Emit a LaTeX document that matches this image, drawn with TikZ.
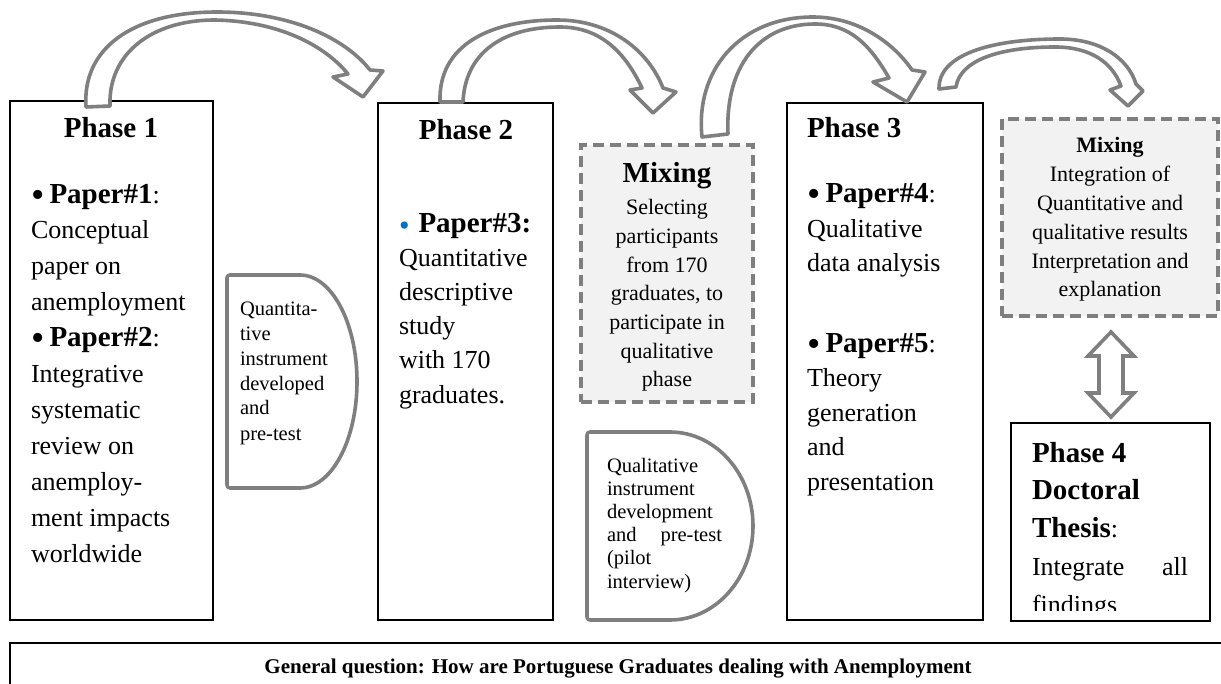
\documentclass[tikz,border=0pt]{standalone}
\usepackage{fontspec}
\setmainfont{Liberation Serif}
\definecolor{arrowgray}{HTML}{7F7F7F}
\definecolor{mixfill}{HTML}{F2F2F2}
\definecolor{bulletblue}{HTML}{0070C0}
\newcommand\hd[1]{{\fontsize{29}{36}\selectfont\bfseries #1}}
% large list bullet and the smaller blue one
\newcommand\bul{\makebox[12pt][l]{\raisebox{-4pt}{\fontsize{38}{36}\selectfont\textbullet}}}
\newcommand\bulblue{\makebox[13pt][l]{\raisebox{-3pt}{\color{bulletblue}\fontsize{30}{30}\selectfont\textbullet}}}
\begin{document}
% multi-line nodes are anchored at the baseline of their last line
\begin{tikzpicture}[x=1pt,y=-1pt,
  phasebox/.style={draw=black, line width=1.8pt, inner sep=0pt, outer sep=0pt, anchor=north west},
  mixbox/.style={draw=arrowgray, fill=mixfill, line width=3.2pt, dash pattern=on 11pt off 6pt, inner sep=0pt, outer sep=0pt, anchor=north west},
  toolshape/.style={draw=arrowgray, fill=white, line width=3.6pt, line join=round},
  bendarrow/.style={draw=arrowgray, fill=white, line width=3.6pt, line join=round},
  txt/.style={inner sep=0pt, outer sep=0pt},
  body/.style={txt, align=left, anchor=base west},
  title/.style={txt, font=\fontsize{29}{29}\selectfont\bfseries},
]
\useasboundingbox (0,0) rectangle (1221,684);
\clip (0,0) rectangle (1221,684);

% ---------- boxes ----------
\node[phasebox, minimum width=203pt, minimum height=519pt] (ph1) at (10,101) {};
\node[phasebox, minimum width=175pt, minimum height=517pt] (ph2) at (378,103) {};
\node[mixbox, minimum width=172pt, minimum height=257pt] (mix1) at (581,145) {};
\node[phasebox, minimum width=196pt, minimum height=517pt] (ph3) at (787,103) {};
\node[mixbox, minimum width=216pt, minimum height=197pt] (mix2) at (1002,119) {};
\node[phasebox, minimum width=199pt, minimum height=198pt] (ph4) at (1011,423) {};
\draw[line width=1.8pt] (10,643) rectangle (1240,720);

% ---------- instrument shapes ----------
\draw[toolshape, rounded corners=3pt] (300,275) -- (227,275) -- (227,488) -- (300,488);
\draw[toolshape] (300,488) arc[start angle=90, end angle=-90, x radius=57, y radius=106.5];
\fill[white] (229,277) rectangle (301,486);
\draw[toolshape, rounded corners=3pt] (670,432) -- (587,432) -- (587,620) -- (670,620);
\draw[toolshape] (670,620) arc[start angle=90, end angle=-90, x radius=83, y radius=94];
\fill[white] (589,434) rectangle (671,618);

% ---------- curved block arrows ----------
\draw[bendarrow] (86,107) .. controls (82,50) and (130,12) .. (217,12)
  .. controls (290,12) and (345,38) .. (370,70)
  -- (383,71) -- (363,97) -- (333,77) -- (348,74)
  .. controls (320,40) and (270,21) .. (215,20)
  .. controls (150,20) and (108,55) .. (110,106) -- cycle;

\draw[bendarrow] (440,102) .. controls (438,45) and (490,20) .. (557,20)
  .. controls (610,20) and (648,50) .. (663,88)
  -- (676,92) -- (653,113) -- (630,90) -- (642,88)
  .. controls (625,52) and (600,27) .. (560,27)
  .. controls (500,27) and (465,55) .. (463,102) -- cycle;

\draw[bendarrow] (702,137) .. controls (695,70) and (740,17) .. (813,17)
  .. controls (860,17) and (895,45) .. (912,70)
  -- (925,72) -- (907,102) -- (873,82) -- (889,78)
  .. controls (870,45) and (850,24) .. (815,24)
  .. controls (760,24) and (725,65) .. (728,134) -- cycle;

\draw[bendarrow] (939,89) .. controls (938,55) and (990,39) .. (1060,39)
  .. controls (1100,39) and (1128,58) .. (1136,84)
  -- (1143,91) -- (1128,106) -- (1110,90) -- (1121,86)
  .. controls (1112,62) and (1090,47) .. (1055,47)
  .. controls (1000,47) and (960,60) .. (956,87) -- cycle;

% ---------- double arrow between mixing and phase 4 ----------
\draw[bendarrow, line join=miter] (1111,332) -- (1134,356) -- (1123,356) -- (1123,393) -- (1134,393)
  -- (1111,417) -- (1088,393) -- (1099,393) -- (1099,356) -- (1088,356) -- cycle;

% ---------- texts ----------
\node[title, anchor=base] (t1) at (111,138) {Phase 1};
\node[body, font=\fontsize{26}{35.9}\selectfont] (b1) at (31,562)
  {\bul\ \hd{Paper\#1}:\\ Conceptual\\ paper on\\ anemployment\\
   \bul\ \hd{Paper\#2}:\\ Integrative\\ systematic\\ review on\\
   anemploy-\\ ment impacts\\ worldwide};

\node[txt, anchor=base west, font=\fontsize{20.5}{25}\selectfont, align=left] (q1) at (240,440)
  {Quantita-\\ tive\\ instrument\\ developed\\ and\\ pre-test};

\node[title, anchor=base] (t2) at (466,140) {Phase 2};
\node[body, font=\fontsize{26}{34.2}\selectfont] (b2) at (399,403)
  {\bulblue\ \hd{Paper\#3:}\\
   Quantitative\\ descriptive\\ study\\ with 170\\ graduates.};

\node[title, anchor=base] (m1t) at (667,183) {Mixing};
\node[txt, anchor=base, align=center, font=\fontsize{22}{28.7}\selectfont] (m1b) at (667,387)
  {Selecting\\ participants\\ from 170\\ graduates, to\\ participate in\\ qualitative\\ phase};

\node[txt, anchor=base west, align=left, font=\fontsize{20.5}{23.2}\selectfont] (q2) at (607,588)
  {Qualitative\\ instrument\\ development\\ \hbox to 115pt{and\hfill pre-test}\\ (pilot\\ interview)};

\node[title, anchor=base west] (t3) at (807,138) {Phase 3};
\node[body, font=\fontsize{26}{34.5}\selectfont] (b3a) at (807,272)
  {\bul\ \hd{Paper\#4}:\\ Qualitative\\ data analysis};
\node[body, font=\fontsize{26}{34.5}\selectfont] (b3b) at (807,490)
  {\bul\ \hd{Paper\#5}:\\ Theory\\ generation\\ and\\ presentation};

\node[txt, anchor=base, font=\fontsize{22}{22}\selectfont\bfseries] (m2t) at (1110,153) {Mixing};
\node[txt, anchor=base, align=center, font=\fontsize{22}{28.75}\selectfont] (m2b) at (1110,297)
  {Integration of\\ Quantitative and\\ qualitative results\\ Interpretation and\\ explanation};

\begin{scope}
\clip (1011,420) rectangle (1210,610);
\node[body, font=\fontsize{26}{37.75}\selectfont] (b4) at (1032,613)
  {\hd{Phase 4}\\ \hd{Doctoral}\\ \hd{Thesis}:\\ \hbox to 156pt{Integrate\hfill all}\\ findings};
\end{scope}

\node[txt, anchor=base, font=\fontsize{21}{21}\selectfont\bfseries] (gq) at (618,673)
  {General question: How are Portuguese Graduates dealing with Anemployment};
\end{tikzpicture}
\end{document}
